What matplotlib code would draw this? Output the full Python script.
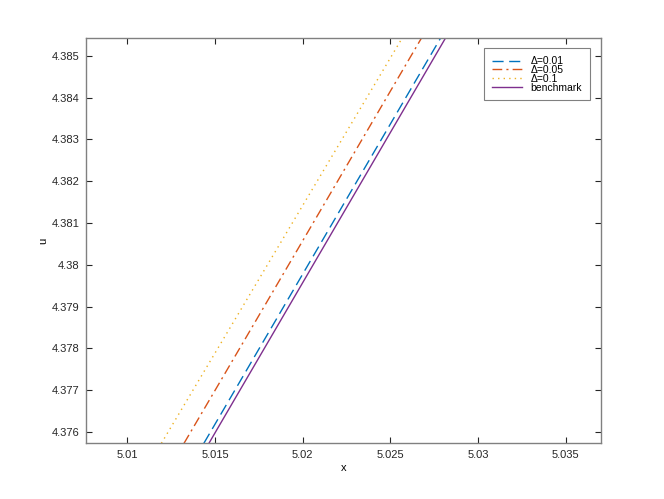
import matplotlib
matplotlib.use("Agg")
import matplotlib.pyplot as plt

# Data: straight segments read at the bottom and top of the visible y-range
y_pts = [4.37573, 4.38542]
x_d001 = [5.01436, 5.02785]
x_d005 = [5.01323, 5.02676]
x_d01 = [5.01194, 5.02566]
x_bench = [5.01465, 5.02813]

labels = ["Δ=0.01", "Δ=0.05", "Δ=0.1", "benchmark"]
xticks = [5.01, 5.015, 5.02, 5.025, 5.03, 5.035]
yticks = [4.376, 4.377, 4.378, 4.379, 4.38, 4.381, 4.382, 4.383, 4.384, 4.385]

plt.rcParams['font.family'] = ['Liberation Sans', 'DejaVu Sans']

fig = plt.figure(figsize=(6.64, 4.99), dpi=100)
ax = fig.add_axes([0.13, 0.1116, 0.775, 0.8116])

ax.plot(x_d001, y_pts, color='#0072BD', lw=1.0, linestyle=(0, (8, 4)), label=labels[0])
ax.plot(x_d005, y_pts, color='#D95319', lw=1.0, linestyle=(0, (7, 3, 1.5, 3)), label=labels[1])
ax.plot(x_d01, y_pts, color='#EDB120', lw=1.0, linestyle=(0, (1, 3)), label=labels[2])
ax.plot(x_bench, y_pts, color='#7E2F8E', lw=1.0, linestyle='-', label=labels[3])

ax.set_xlim(5.00766, 5.037)
ax.set_ylim(4.37573, 4.38542)
ax.set_xticks(xticks)
ax.set_xticklabels([f"{v:g}" for v in xticks])
ax.set_yticks(yticks)
ax.set_yticklabels([f"{v:g}" for v in yticks])

ax.tick_params(direction='in', top=True, right=True, length=4, width=0.8,
               labelsize=8, colors='#262626', pad=5)
for s in ax.spines.values():
    s.set_color('#808080')
    s.set_linewidth(1.0)

ax.set_xlabel('x', fontsize=8, labelpad=2)
ax.set_ylabel('u', fontsize=8, labelpad=2)

leg = ax.legend(loc='upper right', bbox_to_anchor=(0.9786, 0.975), borderaxespad=0,
                fontsize=7.5, handlelength=2.9, handletextpad=0.8, labelspacing=-0.12,
                borderpad=0.75, fancybox=False, framealpha=1, edgecolor='#808080')
leg.get_frame().set_linewidth(0.8)

fig.savefig('out.png', dpi=100)
